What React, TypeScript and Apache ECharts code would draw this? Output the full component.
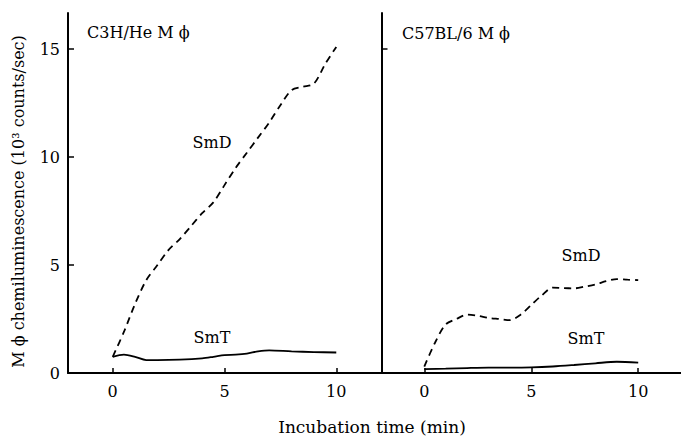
import React, { useEffect, useRef } from "react";
import * as echarts from "echarts";

// Left panel: C3H/He Mϕ
const leftSmDX = [0, 0.5, 1, 1.5, 2, 2.5, 3, 3.5, 4, 4.5, 5, 5.5, 6, 6.5, 7, 7.5, 8, 8.5, 9, 9.5, 10];
const leftSmDY = [0.75, 1.9, 3.2, 4.3, 5.0, 5.7, 6.2, 6.8, 7.4, 7.9, 8.7, 9.5, 10.2, 10.9, 11.6, 12.4, 13.1, 13.25, 13.4, 14.3, 15.1];
const leftSmTX = [0, 0.5, 1, 1.5, 2, 3, 4, 4.5, 5, 5.5, 6, 6.5, 7, 8, 9, 10];
const leftSmTY = [0.75, 0.85, 0.75, 0.6, 0.6, 0.62, 0.68, 0.75, 0.83, 0.85, 0.9, 1.0, 1.05, 1.0, 0.97, 0.95];

// Right panel: C57BL/6 Mϕ
const rightSmDX = [0, 0.5, 1, 1.5, 2, 2.5, 3, 3.5, 4, 4.5, 5, 5.5, 6, 6.5, 7, 7.5, 8, 8.5, 9, 9.5, 10];
const rightSmDY = [0.3, 1.4, 2.25, 2.5, 2.7, 2.65, 2.55, 2.5, 2.45, 2.7, 3.15, 3.6, 3.95, 3.93, 3.92, 4.0, 4.1, 4.25, 4.35, 4.32, 4.3];
const rightSmTX = [0, 1, 2, 3, 4, 5, 6, 7, 8, 9, 10];
const rightSmTY = [0.18, 0.2, 0.23, 0.25, 0.25, 0.26, 0.3, 0.37, 0.45, 0.52, 0.48];

const xTicks = [0, 5, 10];
const yLabels = [0, 5, 10, 15];
const yTicks = [5, 10, 15];

const panelTitles = ["C3H/He M \u03d5", "C57BL/6 M \u03d5"];
const yTitle = "M \u03d5 chemiluminescence (10\u00b3 counts/sec)";
const xTitle = "Incubation time (min)";

const FONT = "DejaVu Serif";

const pairs = (xs: number[], ys: number[]) => xs.map((x, i) => [x, ys[i]]);

export default function App() {
  const ref = useRef<HTMLDivElement>(null);
  useEffect(() => {
    if (!ref.current) return;
    const chart = echarts.init(ref.current, null, { renderer: "svg" });
    const axisLine = { show: true, onZero: false, lineStyle: { color: "#000", width: 2 } };
    const xAxisCommon = (gi: number) => ({
      type: "value",
      gridIndex: gi,
      min: -2,
      max: 12,
      axisLine,
      axisTick: { show: true, inside: true, length: 5, customValues: xTicks, lineStyle: { color: "#000", width: 1.5 } },
      axisLabel: { customValues: xTicks, color: "#000", fontFamily: FONT, fontSize: 16, margin: 10 },
      splitLine: { show: false },
    });
    const textStyle = { fill: "#000", fontFamily: FONT, fontSize: 16 };
    chart.setOption({
      animation: false,
      backgroundColor: "#fff",
      grid: [
        { left: 68, top: 13, width: 313, height: 360 },
        { left: 381.5, top: 13, width: 309.4, height: 360 },
      ],
      xAxis: [xAxisCommon(0), xAxisCommon(1)],
      yAxis: [
        {
          type: "value",
          gridIndex: 0,
          min: 0,
          max: 16.67,
          axisLine,
          axisTick: { show: true, inside: true, length: 6, customValues: yTicks, lineStyle: { color: "#000", width: 1.5 } },
          axisLabel: { customValues: yLabels, color: "#000", fontFamily: FONT, fontSize: 16, margin: 8 },
          splitLine: { show: false },
        },
        {
          type: "value",
          gridIndex: 1,
          min: 0,
          max: 16.67,
          axisLine,
          axisTick: { show: true, inside: true, length: 6, customValues: [15], lineStyle: { color: "#000", width: 1.5 } },
          axisLabel: { show: false },
          splitLine: { show: false },
        },
      ],
      series: [
        {
          type: "line", xAxisIndex: 0, yAxisIndex: 0, data: pairs(leftSmDX, leftSmDY),
          symbol: "none", smooth: 0.3, lineStyle: { color: "#000", width: 1.8, type: [7, 5] },
        },
        {
          type: "line", xAxisIndex: 0, yAxisIndex: 0, data: pairs(leftSmTX, leftSmTY),
          symbol: "none", smooth: 0.3, lineStyle: { color: "#000", width: 1.8 },
        },
        {
          type: "line", xAxisIndex: 1, yAxisIndex: 1, data: pairs(rightSmDX, rightSmDY),
          symbol: "none", smooth: 0.3, lineStyle: { color: "#000", width: 1.8, type: [7, 5] },
        },
        {
          type: "line", xAxisIndex: 1, yAxisIndex: 1, data: pairs(rightSmTX, rightSmTY),
          symbol: "none", smooth: 0.3, lineStyle: { color: "#000", width: 1.8 },
        },
      ],
      graphic: [
        { type: "text", x: 87, y: 32, style: { ...textStyle, text: panelTitles[0], align: "left", verticalAlign: "middle" } },
        { type: "text", x: 402, y: 33, style: { ...textStyle, text: panelTitles[1], align: "left", verticalAlign: "middle" } },
        { type: "text", x: 212, y: 142, style: { ...textStyle, text: "SmD", align: "center", verticalAlign: "middle" } },
        { type: "text", x: 212, y: 337, style: { ...textStyle, text: "SmT", align: "center", verticalAlign: "middle" } },
        { type: "text", x: 581, y: 255, style: { ...textStyle, text: "SmD", align: "center", verticalAlign: "middle" } },
        { type: "text", x: 586, y: 338, style: { ...textStyle, text: "SmT", align: "center", verticalAlign: "middle" } },
        { type: "text", x: 18.5, y: 201.5, rotation: Math.PI / 2, style: { ...textStyle, text: yTitle, align: "center", verticalAlign: "middle" } },
        { type: "text", x: 372, y: 427, style: { ...textStyle, fontSize: 17, text: xTitle, align: "center", verticalAlign: "middle" } },
      ],
    });
    return () => chart.dispose();
  }, []);
  return (
    <div
      ref={ref}
      style={{ position: "fixed", left: 0, top: 0, width: 681, height: 436, background: "#fff" }}
    />
  );
}
